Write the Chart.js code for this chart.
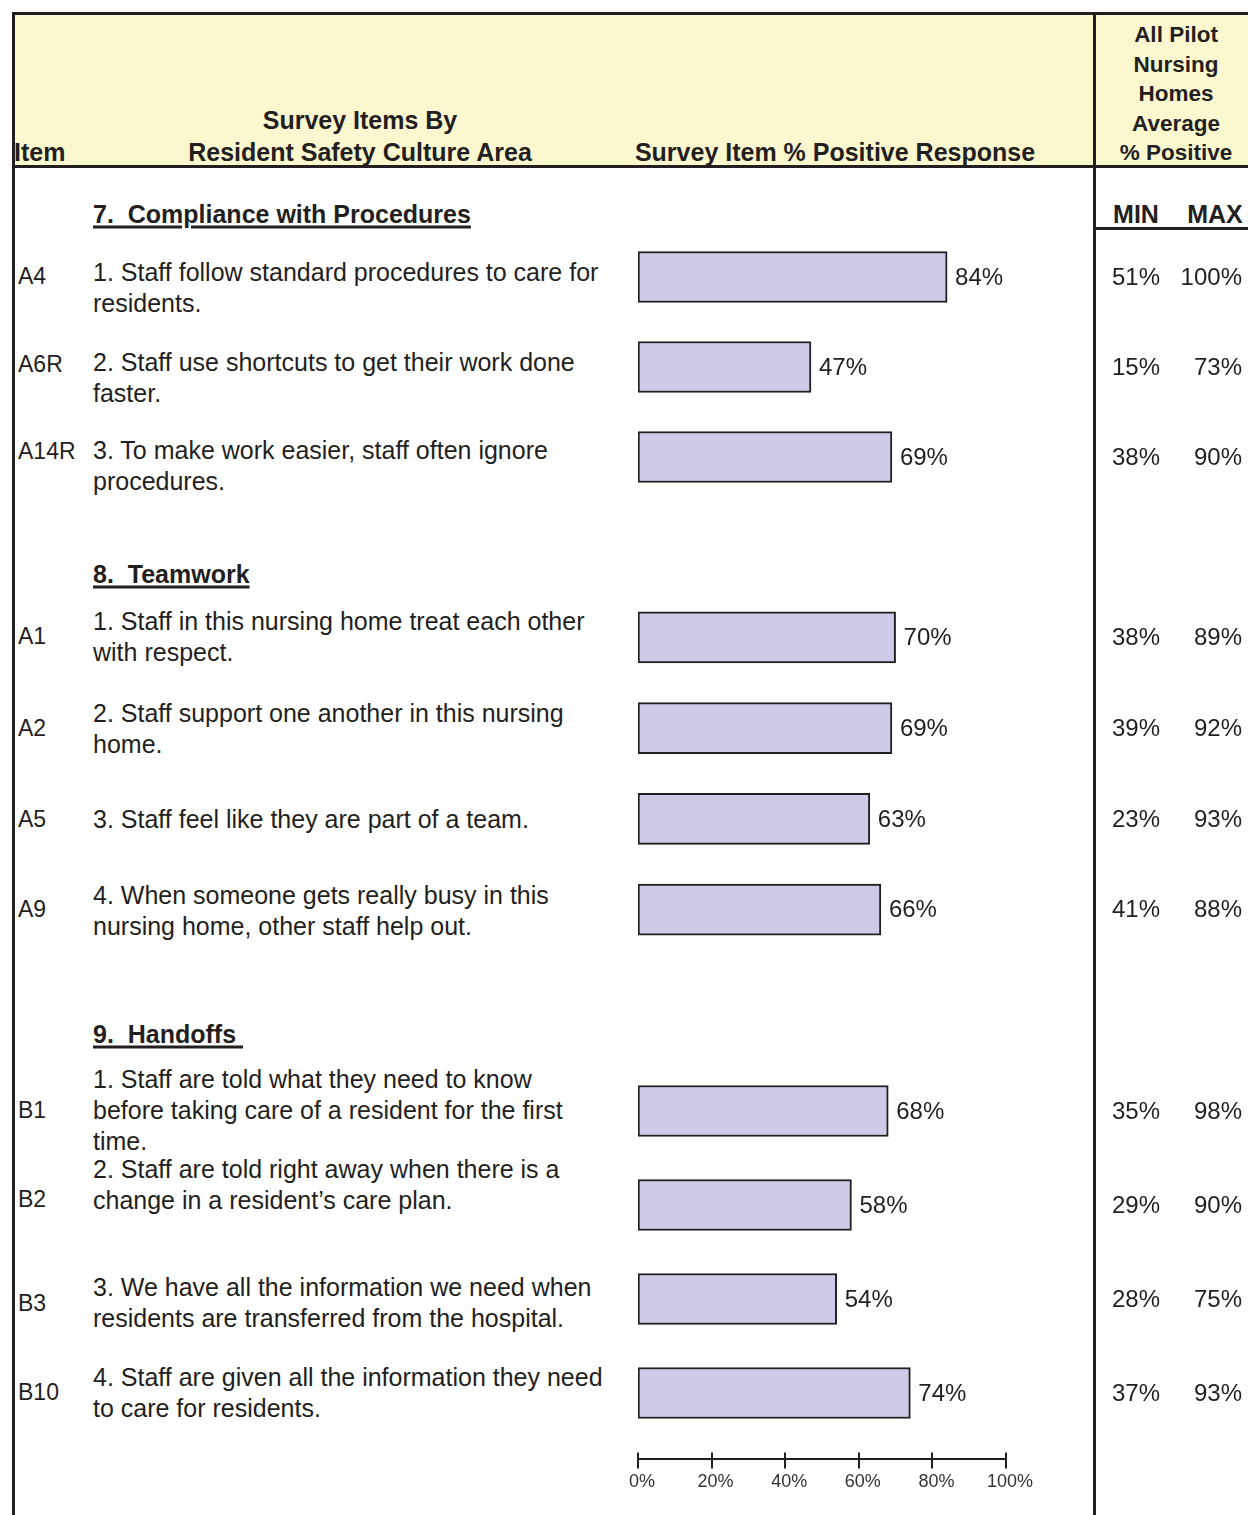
<!DOCTYPE html>
<html>
<head>
<meta charset="utf-8">
<script src="https://cdn.jsdelivr.net/npm/chart.js@4.4.1/dist/chart.umd.min.js"></script>
<style>
  html, body { margin: 0; padding: 0; background: #fff; }
  #page { position: relative; width: 1248px; height: 1515px; overflow: hidden; background: #fff;
          font-family: "Liberation Sans", Arial, Helvetica, sans-serif; color: #231f20; }
  .ln { position: absolute; background: #231f20; }
  .t { position: absolute; white-space: pre; line-height: 31px; }
  .b { font-weight: bold; }
  .u { text-decoration: underline; text-decoration-thickness: 3px; text-underline-offset: 3px; }
  canvas { position: absolute; }
</style>
</head>
<body>
<div id="page">
  <div style="position:absolute;left:15px;top:15px;width:1233px;height:150px;background:#fbf8cf"></div>
  <div class="ln" style="left:12px;top:12px;width:1236px;height:3px"></div>
  <div class="ln" style="left:12px;top:12px;width:3px;height:1503px"></div>
  <div class="ln" style="left:12px;top:165px;width:1236px;height:3px"></div>
  <div class="ln" style="left:1093px;top:12px;width:3px;height:1503px"></div>
  <div class="ln" style="left:1093px;top:227px;width:155px;height:3px"></div>
</div>
<script>
// Section 7 - Compliance with Procedures
const complianceCodes = ['A4', 'A6R', 'A14R'];
const complianceItems = [
    ['1. Staff follow standard procedures to care for', 'residents.'],
    ['2. Staff use shortcuts to get their work done', 'faster.'],
    ['3. To make work easier, staff often ignore', 'procedures.']
];
const compliancePositive = [84, 47, 69];
const complianceMin = [51, 15, 38];
const complianceMax = [100, 73, 90];

// Section 8 - Teamwork
const teamworkCodes = ['A1', 'A2', 'A5', 'A9'];
const teamworkItems = [
    ['1. Staff in this nursing home treat each other', 'with respect.'],
    ['2. Staff support one another in this nursing', 'home.'],
    ['3. Staff feel like they are part of a team.'],
    ['4. When someone gets really busy in this', 'nursing home, other staff help out.']
];
const teamworkPositive = [70, 69, 63, 66];
const teamworkMin = [38, 39, 23, 41];
const teamworkMax = [89, 92, 93, 88];

// Section 9 - Handoffs
const handoffsCodes = ['B1', 'B2', 'B3', 'B10'];
const handoffsItems = [
    ['1. Staff are told what they need to know', 'before taking care of a resident for the first', 'time.'],
    ['2. Staff are told right away when there is a', 'change in a resident\u2019s care plan.'],
    ['3. We have all the information we need when', 'residents are transferred from the hospital.'],
    ['4. Staff are given all the information they need', 'to care for residents.']
];
const handoffsPositive = [68, 58, 54, 74];
const handoffsMin = [35, 29, 28, 37];
const handoffsMax = [98, 90, 75, 93];

const axisTicks = [0, 20, 40, 60, 80, 100];

const INK = '#231f20';
const BAR_FILL = '#cdcbe8';
const FONT = '"Liberation Sans", Arial, Helvetica, sans-serif';
const page = document.getElementById('page');

function txt(str, x, y, opts = {}) {
    const d = document.createElement('div');
    d.className = 't' + (opts.bold ? ' b' : '') + (opts.under ? ' u' : '');
    d.style.fontSize = (opts.size || 25) + 'px';
    d.style.left = x + 'px';
    d.style.top = y + 'px';
    const tx = opts.align === 'center' ? '-50%' : opts.align === 'right' ? '-100%' : '0';
    d.style.transform = `translate(${tx}, -50%)`;
    if (opts.align) d.style.textAlign = opts.align;
    d.innerHTML = Array.isArray(str) ? str.join('<br>') : str;
    page.appendChild(d);
}

// header
txt('Item', 14, 152, { bold: true });
txt('Survey Items By', 360, 120, { bold: true, align: 'center' });
txt('Resident Safety Culture Area', 360, 152, { bold: true, align: 'center' });
txt('Survey Item % Positive Response', 835, 152, { bold: true, align: 'center' });
['All Pilot', 'Nursing', 'Homes', 'Average', '% Positive'].forEach((s, i) => {
    txt(s, 1176, 34 + i * 29.5, { bold: true, size: 22.5, align: 'center' });
});
txt('MIN', 1136, 214, { bold: true, align: 'center' });
txt('MAX', 1215, 214, { bold: true, align: 'center' });

// section titles
txt('7.  Compliance with Procedures', 93, 214, { bold: true, under: true });
txt('8.  Teamwork', 93, 574, { bold: true, under: true });
txt('9.  Handoffs ', 93, 1034, { bold: true, under: true });

// item codes and texts (y = vertical centre of the text block)
function items(codes, texts, codeY, textY) {
    codes.forEach((c, i) => {
        txt(c, 18, codeY[i], { size: 23 });
        txt(texts[i], 93, textY[i]);
    });
}
items(complianceCodes, complianceItems, [276, 364, 451], [287.5, 378, 465.5]);
items(teamworkCodes, teamworkItems, [636, 728, 819, 909], [636.5, 728.5, 819, 910.5]);
items(handoffsCodes, handoffsItems, [1110, 1199, 1303, 1392], [1110, 1185, 1302.5, 1392.5]);

// charts
const CANVAS_LEFT = 600;
const CANVAS_W = 648;
const PAD_L = 38;
const PLOT_W = 368;

function rowLabels(minVals, maxVals) {
    return {
        id: 'rowLabels',
        afterDatasetsDraw(chart) {
            const { ctx } = chart;
            const meta = chart.getDatasetMeta(0);
            const vals = chart.data.datasets[0].data;
            ctx.save();
            ctx.font = '24px ' + FONT;
            ctx.fillStyle = INK;
            ctx.textBaseline = 'middle';
            meta.data.forEach((bar, i) => {
                ctx.textAlign = 'left';
                ctx.fillText(vals[i] + '%', bar.x + 8, bar.y + 1);
                ctx.textAlign = 'center';
                ctx.fillText(minVals[i] + '%', 1136 - CANVAS_LEFT, bar.y + 1);
                ctx.textAlign = 'right';
                ctx.fillText(maxVals[i] + '%', 1242 - CANVAS_LEFT, bar.y + 1);
            });
            ctx.restore();
        }
    };
}

function sectionChart(top, height, codes, values, minVals, maxVals) {
    const cv = document.createElement('canvas');
    cv.width = CANVAS_W;
    cv.height = height;
    cv.style.left = CANVAS_LEFT + 'px';
    cv.style.top = top + 'px';
    page.appendChild(cv);
    return new Chart(cv, {
        type: 'bar',
        data: {
            labels: codes,
            datasets: [{
                data: values,
                backgroundColor: BAR_FILL,
                borderColor: INK,
                borderWidth: 2,
                borderSkipped: false,
                barThickness: 51
            }]
        },
        options: {
            indexAxis: 'y',
            responsive: false,
            animation: false,
            layout: { padding: { left: PAD_L, right: CANVAS_W - PAD_L - PLOT_W, top: 0, bottom: 0 } },
            plugins: { legend: { display: false }, tooltip: { enabled: false } },
            scales: {
                x: { display: false, min: 0, max: 100 },
                y: { display: false }
            }
        },
        plugins: [rowLabels(minVals, maxVals)]
    });
}

sectionChart(232, 270, complianceCodes, compliancePositive, complianceMin, complianceMax);
sectionChart(592, 363, teamworkCodes, teamworkPositive, teamworkMin, teamworkMax);
sectionChart(1064, 376, handoffsCodes, handoffsPositive, handoffsMin, handoffsMax);

// percent axis under the bars; tick marks cross the axis line
const tickCross = {
    id: 'tickCross',
    afterDraw(chart) {
        const sx = chart.scales.x;
        const ctx = chart.ctx;
        ctx.save();
        ctx.strokeStyle = INK;
        ctx.lineWidth = 2;
        sx.ticks.forEach(t => {
            const x = Math.round(sx.getPixelForValue(t.value));
            ctx.beginPath();
            ctx.moveTo(x, sx.top - 7);
            ctx.lineTo(x, sx.top);
            ctx.stroke();
        });
        ctx.restore();
    }
};

const axisCv = document.createElement('canvas');
axisCv.width = CANVAS_W;
axisCv.height = 86;
axisCv.style.left = CANVAS_LEFT + 'px';
axisCv.style.top = '1410px';
page.appendChild(axisCv);
new Chart(axisCv, {
    type: 'line',
    data: { datasets: [] },
    options: {
        responsive: false,
        animation: false,
        layout: { padding: { left: PAD_L, right: CANVAS_W - PAD_L - PLOT_W, top: 0, bottom: 0 } },
        plugins: { legend: { display: false }, tooltip: { enabled: false } },
        scales: {
            x: {
                type: 'linear',
                min: axisTicks[0],
                max: axisTicks[axisTicks.length - 1],
                afterBuildTicks: (s) => { s.ticks = axisTicks.map(v => ({ value: v })); },
                border: { color: INK, width: 2 },
                grid: { color: INK, lineWidth: 2, tickLength: 9, drawOnChartArea: false },
                ticks: {
                    color: '#333',
                    font: { size: 18, family: FONT },
                    padding: 3,
                    labelOffset: 4,
                    maxRotation: 0,
                    callback: (v) => v + '%'
                }
            },
            y: { display: false, min: 0, max: 1 }
        }
    },
    plugins: [tickCross]
});
</script>
</body>
</html>
